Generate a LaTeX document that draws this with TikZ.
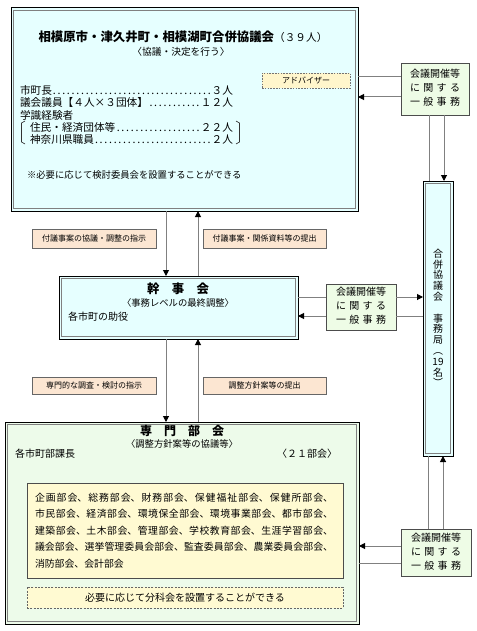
\documentclass[tikz,border=0pt]{standalone}
\usepackage{fontspec}
\setmainfont{Noto Sans CJK JP}
\usetikzlibrary{arrows.meta}
\definecolor{linegray}{HTML}{808080}
\definecolor{cyanfill}{HTML}{E6FFFF}
\definecolor{greenfill}{HTML}{EDFBEA}
\definecolor{genfill}{HTML}{EEFCE6}
\definecolor{peach}{HTML}{FCE6D2}
\definecolor{yellowfill}{HTML}{FFFAD2}
\definecolor{advfill}{HTML}{FFF6CC}
\begin{document}
\begin{tikzpicture}[x=0.75pt,y=-0.75pt,
  conn/.style={draw=linegray, line width=0.75pt},
  arr/.style={conn, -{Triangle[width=4.5pt,length=4.5pt,color=black]}},
  box/.style={rectangle, inner sep=0pt, outer sep=0pt},
  dbl/.style={box, draw=black, line width=0.75pt,
    path picture={\draw[linegray, line width=0.6pt]
      ([shift={(1.9pt,1.9pt)}]path picture bounding box.south west) rectangle
      ([shift={(-1.9pt,-1.9pt)}]path picture bounding box.north east);}},
  genbox/.style={box, draw=black!70, line width=0.6pt, fill=genfill},
  lbl/.style={box, draw=black!60, line width=0.6pt, fill=peach,
    font=\fontsize{6pt}{7pt}\selectfont},
  txt/.style={inner sep=0pt, outer sep=0pt},
]
\useasboundingbox (0,0) rectangle (476,631);

% ---------- boxes ----------
\node[dbl, fill=cyanfill, minimum width=260.25pt, minimum height=152.25pt] (council) at (184.5,109.5) {};
\node[box, draw=black!55, dash pattern=on 1.2pt off 0.9pt, line width=0.5pt, fill=advfill,
  minimum width=66pt, minimum height=11.25pt, font=\fontsize{6pt}{7pt}\selectfont] (adv) at (306,80.5) {アドバイザー};
\node[genbox, minimum width=51pt, minimum height=39pt] (gen1) at (435,89) {};
\node[dbl, fill=cyanfill, minimum width=22.5pt, minimum height=206.25pt] (sec) at (438,318.5) {};
\node[lbl, minimum width=93pt, minimum height=14.25pt] (l1) at (94,238.5) {付議事案の協議・調整の指示};
\node[lbl, minimum width=92.25pt, minimum height=14.25pt] (l2) at (264.5,238.5) {付議事案・関係資料等の提出};
\node[dbl, fill=cyanfill, minimum width=179.25pt, minimum height=47.25pt] (kanji) at (178.5,307.5) {};
\node[genbox, minimum width=52.5pt, minimum height=34.5pt] (gen2) at (361,307) {};
\node[lbl, minimum width=93pt, minimum height=12.75pt] (l3) at (94,385.5) {専門的な調査・検討の指示};
\node[lbl, minimum width=92.25pt, minimum height=12.75pt] (l4) at (264.5,385.5) {調整方針案等の提出};
\node[dbl, fill=greenfill, minimum width=265.5pt, minimum height=151.5pt] (senmon) at (182,523) {};
\node[box, draw=black!70, line width=0.6pt, fill=yellowfill, minimum width=237pt, minimum height=71.25pt] (list) at (185,530.5) {};
\node[box, draw=black!60, dash pattern=on 1.5pt off 1pt, line width=0.5pt, fill=yellowfill,
  minimum width=237pt, minimum height=15.75pt, font=\fontsize{7.5pt}{9pt}\selectfont] (bunka) at (185,597.5) {必要に応じて分科会を設置することができる};
\node[genbox, minimum width=52.5pt, minimum height=35.25pt] (gen3) at (436,552.5) {};

% ---------- council texts ----------
\node[txt] (title) at (183,37) {{\fontsize{9.3pt}{11pt}\selectfont\bfseries 相模原市・津久井町・相模湖町合併協議会}{\fontsize{8pt}{10pt}\selectfont（３９人）}};
\node[txt, font=\fontsize{7.3pt}{9pt}\selectfont] (csub) at (181,52) {〈協議・決定を行う〉};
\node[txt, anchor=west, font=\fontsize{8pt}{10pt}\selectfont] (m1) at (20,90) {\makebox[159.75pt][l]{市町長\dotfill ３人}};
\node[txt, anchor=west, font=\fontsize{8pt}{10pt}\selectfont] (m2) at (20,102) {\makebox[159.75pt][l]{議会議員【４人×３団体】\dotfill １２人}};
\node[txt, anchor=west, font=\fontsize{8pt}{10pt}\selectfont] (m3) at (20,115) {学識経験者};
\node[txt, anchor=west, font=\fontsize{8pt}{10pt}\selectfont] (m4) at (30,127) {\makebox[152.25pt][l]{住民・経済団体等\dotfill ２２人}};
\node[txt, anchor=west, font=\fontsize{8pt}{10pt}\selectfont] (m5) at (30,139) {\makebox[152.25pt][l]{神奈川県職員\dotfill ２人}};
\draw[black!80, line width=0.5pt] (25,121) -- (21.5,123) -- (21.5,142) -- (25,144);
\draw[black!80, line width=0.5pt] (236,121) -- (239.5,123) -- (239.5,142) -- (236,144);
\node[txt, anchor=west, font=\fontsize{7pt}{9pt}\selectfont] (note) at (27,175) {※必要に応じて検討委員会を設置することができる};

% ---------- general affairs texts ----------
\newcommand{\genblock}{\fontsize{7.5pt}{10.5pt}\selectfont
  \begin{tabular}{@{}l@{}}会議開催等\\\makebox[37.5pt][s]{に\hfill 関\hfill す\hfill る}\\\makebox[37.5pt][s]{一\hfill 般\hfill 事\hfill 務}\end{tabular}}
\node[txt] (g1t) at (gen1.center) {\genblock};
\node[txt] (g2t) at (gen2.center) {\genblock};
\node[txt] (g3t) at (gen3.center) {\genblock};

% ---------- secretariat text ----------
\node[txt, align=center, font=\fontsize{7.5pt}{8.1pt}\selectfont] (sect) at (438,318)
  {合\\併\\協\\議\\会\\\mbox{}\\事\\務\\局\\︵\\19\\名\\︶};

% ---------- kanjikai texts ----------
\node[txt, font=\fontsize{9.3pt}{11pt}\selectfont\bfseries] (ktitle) at (178,288.5) {幹　事　会};
\node[txt, font=\fontsize{7pt}{9pt}\selectfont] (ksub) at (178,303) {〈事務レベルの最終調整〉};
\node[txt, anchor=west, font=\fontsize{7.5pt}{9pt}\selectfont] (kmem) at (68,317) {各市町の助役};

% ---------- senmon texts ----------
\node[txt, font=\fontsize{9pt}{11pt}\selectfont\bfseries] (stitle) at (182,431) {専　門　部　会};
\node[txt, font=\fontsize{7pt}{9pt}\selectfont] (ssub) at (182,443.5) {〈調整方針案等の協議等〉};
\node[txt, anchor=west, font=\fontsize{7.5pt}{9pt}\selectfont] (smem) at (15,454) {各市町部課長};
\node[txt, anchor=east, font=\fontsize{7.5pt}{9pt}\selectfont] (snum) at (337,454) {〈２１部会〉};
\node[txt, anchor=west, text width=223.5pt, align=justify,
  font=\fontsize{7.4pt}{12.4pt}\selectfont] (listt) at (35,530.5)
  {\XeTeXlinebreaklocale "ja"\XeTeXlinebreakskip 0pt plus 2pt\relax
   企画部会、総務部会、財務部会、保健福祉部会、保健所部会、\linebreak
   市民部会、経済部会、環境保全部会、環境事業部会、都市部会、\linebreak
   建築部会、土木部会、管理部会、学校教育部会、生涯学習部会、\linebreak
   議会部会、選挙管理委員会部会、監査委員部会、農業委員会部会、\linebreak
   消防部会、会計部会};

% ---------- connectors ----------
\draw[arr] (council.south -| 166,0) -- (kanji.north -| 166,0);
\draw[arr] (kanji.north -| 198,0) -- (council.south -| 198,0);
\draw[arr] (kanji.south -| 166,0) -- (senmon.north -| 166,0);
\draw[arr] (senmon.north -| 198,0) -- (kanji.south -| 198,0);

\draw[conn] (council.east |- 0,77) -- (gen1.west |- 0,77);
\draw[arr] (gen1.west |- 0,97) -- (council.east |- 0,97);
\draw[conn] (gen1.south -| 429,0) -- (sec.north -| 429,0);
\draw[arr] (gen1.south -| 444,0) -- (sec.north -| 444,0);

\draw[conn] (kanji.east |- 0,297) -- (gen2.west |- 0,297);
\draw[arr] (gen2.east |- 0,297) -- (sec.west |- 0,297);
\draw[conn] (sec.west |- 0,316) -- (gen2.east |- 0,316);
\draw[arr] (gen2.west |- 0,316) -- (kanji.east |- 0,316);

\draw[conn] (gen3.north -| 428,0) -- (sec.south -| 428,0);
\draw[arr] (gen3.north -| 443,0) -- (sec.south -| 443,0);
\draw[arr] (gen3.west |- 0,546) -- (senmon.east |- 0,546);
\draw[conn] (senmon.east |- 0,563) -- (gen3.west |- 0,563);
\end{tikzpicture}
\end{document}
